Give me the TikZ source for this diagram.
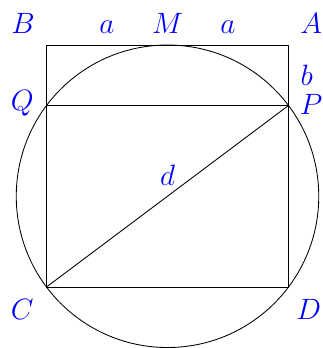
\documentclass[tikz,border=0pt]{standalone}
\usepackage{amsmath,amssymb}
\usepackage{tikz}
\usetikzlibrary{calc}
\usetikzlibrary{positioning}

\begin{document}
\begin{tikzpicture}[line cap=round, line join=round,
		lbl/.style={text=blue, font=\fontsize{21.5}{26}\selectfont, inner sep=0pt},
		edge/.style={line width=0.6pt}]
	
	% Frame of the picture
	\useasboundingbox (-4.153,-7.512) rectangle (3.831,1.116);
	
	% Corners of the square (side 2a)
	\coordinate (B) at (-3,0);
	\coordinate (M) at (0,0);
	\coordinate (A) at (3,0);
	\coordinate (Q) at (-3,-1.5); % b = a/2 below the top side
	\coordinate (P) at (3,-1.5);
	\coordinate (C) at (-3,-6);
	\coordinate (D) at (3,-6);
	\coordinate (O) at (0,-3.75); % centre of the circle
	
	% Square, chord and diagonal
	\draw[edge] (B) -- (A) -- (D) -- (C) -- cycle;
	\draw[edge] (Q) -- (P);
	\draw[edge] (C) -- (P);
	
	% Circle through P, Q, C, D touching BA at M
	\draw[edge] (O) circle (3.75);
	
	% Labels
	\node[lbl, anchor=base] (lB) at (-3.58,0.273) {$B$};
	\node[lbl, anchor=base] (la1) at (-1.5,0.273) {$a$};
	\node[lbl, anchor=base] (lM) at (0,0.273) {$M$};
	\node[lbl, anchor=base] (la2) at (1.5,0.273) {$a$};
	\node[lbl, anchor=base] (lA) at (3.56,0.273) {$A$};
	\node[lbl] (lb) at (3.45,-0.74) {$b$};
	\node[lbl] (lQ) at (-3.6,-1.45) {$Q$};
	\node[lbl] (lP) at (3.56,-1.48) {$P$};
	\node[lbl] (ld) at (0,-3.22) {$d$};
	\node[lbl] (lC) at (-3.6,-6.55) {$C$};
	\node[lbl] (lD) at (3.5,-6.55) {$D$};
	
\end{tikzpicture}
\end{document}
